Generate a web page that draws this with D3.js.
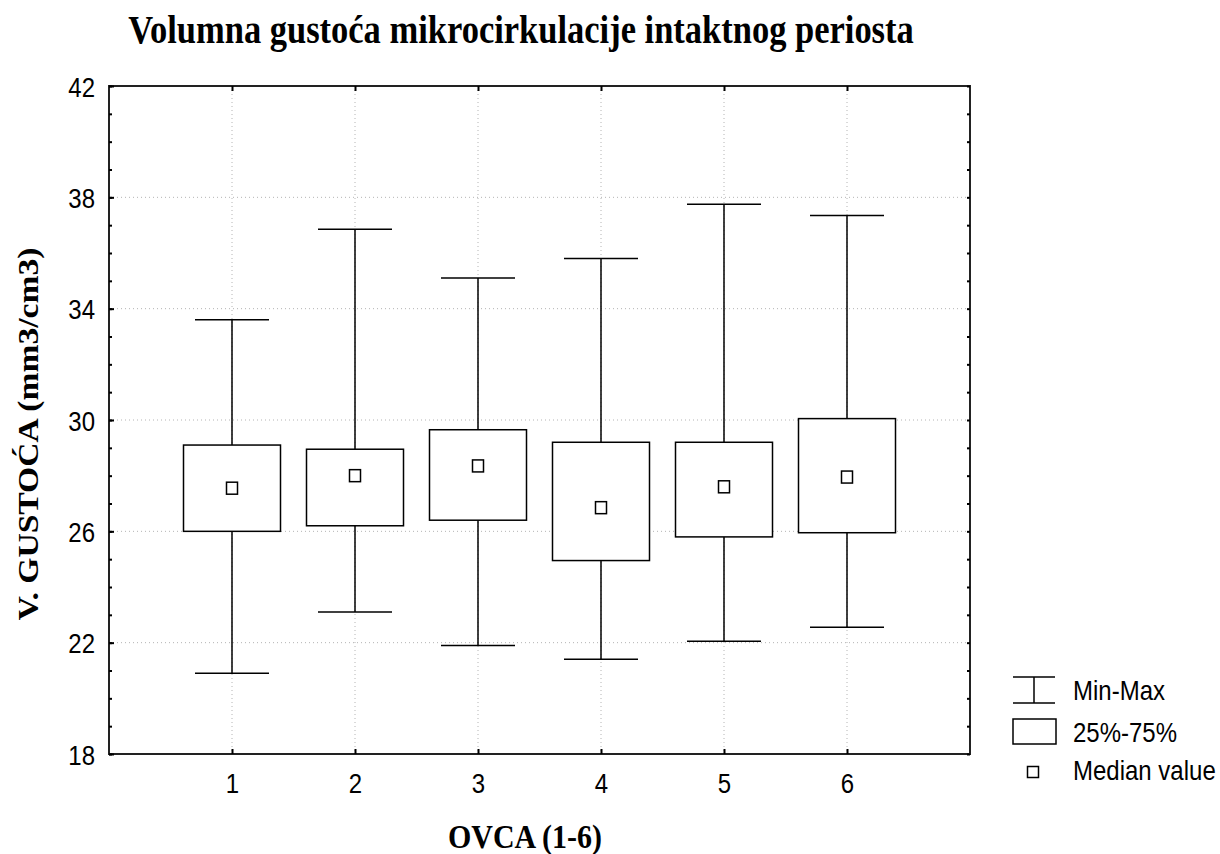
<!DOCTYPE html>
<html><head><meta charset="utf-8">
<script src="https://cdn.jsdelivr.net/npm/d3@7"></script>
<style>body{margin:0;background:#fff}</style>
</head><body><svg id="c" width="1220" height="854"></svg>
<script>
const categories = ["1","2","3","4","5","6"];
const minVals = [20.9, 23.1, 21.9, 21.4, 22.05, 22.55];
const q1Vals = [26.0, 26.2, 26.4, 24.95, 25.8, 25.95];
const medianVals = [27.55, 28.0, 28.35, 26.85, 27.6, 27.95];
const q3Vals = [29.1, 28.95, 29.65, 29.2, 29.2, 30.05];
const maxVals = [33.6, 36.85, 35.1, 35.8, 37.75, 37.35];
const yTicks = [18, 22, 26, 30, 34, 38, 42];
const legendLabels = ["Min-Max", "25%-75%", "Median value"];

const svg = d3.select("#c");
const L = 109, R = 970, T = 86, B = 754;
const SY = 1.15;
const x = d3.scaleLinear().domain([0, 7]).range([L, R]);
const y = d3.scaleLinear().domain([18, 42]).range([B, T]);
const pos = i => x(i + 1);

// grid
const g = svg.append("g");
g.selectAll(".hg").data(yTicks.slice(1, -1)).join("line")
  .attr("x1", L).attr("x2", R).attr("y1", d => y(d)).attr("y2", d => y(d))
  .attr("stroke", "#b4b4b4").attr("stroke-dasharray", "1,3").attr("stroke-width", 1);
g.selectAll(".vg").data(categories).join("line")
  .attr("x1", (d, i) => pos(i)).attr("x2", (d, i) => pos(i)).attr("y1", T).attr("y2", B)
  .attr("stroke", "#b4b4b4").attr("stroke-dasharray", "1,3").attr("stroke-width", 1);

// boxes
const data = categories.map((c, i) => ({c, i, min: minVals[i], q1: q1Vals[i], med: medianVals[i], q3: q3Vals[i], max: maxVals[i]}));
const bw = 97, cw = 74, msw = 11, msh = 12;
const bx = g.selectAll(".b").data(data).join("g");
bx.append("line").attr("x1", d => pos(d.i)).attr("x2", d => pos(d.i))
  .attr("y1", d => y(d.max)).attr("y2", d => y(d.q3)).attr("stroke", "#000").attr("stroke-width", 1.5);
bx.append("line").attr("x1", d => pos(d.i)).attr("x2", d => pos(d.i))
  .attr("y1", d => y(d.q1)).attr("y2", d => y(d.min)).attr("stroke", "#000").attr("stroke-width", 1.5);
bx.append("line").attr("x1", d => pos(d.i) - cw/2).attr("x2", d => pos(d.i) + cw/2)
  .attr("y1", d => y(d.max)).attr("y2", d => y(d.max)).attr("stroke", "#000").attr("stroke-width", 1.5);
bx.append("line").attr("x1", d => pos(d.i) - cw/2).attr("x2", d => pos(d.i) + cw/2)
  .attr("y1", d => y(d.min)).attr("y2", d => y(d.min)).attr("stroke", "#000").attr("stroke-width", 1.5);
bx.append("rect").attr("x", d => pos(d.i) - bw/2).attr("width", bw)
  .attr("y", d => y(d.q3)).attr("height", d => y(d.q1) - y(d.q3))
  .attr("fill", "#fff").attr("stroke", "#000").attr("stroke-width", 1.5);
bx.append("rect").attr("x", d => pos(d.i) - msw/2).attr("width", msw)
  .attr("y", d => y(d.med) - msh/2).attr("height", msh)
  .attr("fill", "#fff").attr("stroke", "#000").attr("stroke-width", 1.5);

// frame
svg.append("rect").attr("x", L).attr("y", T).attr("width", R - L).attr("height", B - T)
  .attr("fill", "none").attr("stroke", "#222").attr("stroke-width", 2);

// axes
const fontSans = "'Liberation Sans', Arial, sans-serif";
const yAxis = svg.append("g").attr("transform", `translate(${L},0)`)
  .call(d3.axisLeft(y).tickValues(yTicks).tickSize(-5).tickFormat(d3.format("d")));
const yMinor = svg.append("g").attr("transform", `translate(${L},0)`)
  .call(d3.axisLeft(y).tickValues(d3.range(18, 43, 1)).tickSize(-3).tickFormat(""));
const yRight = svg.append("g").attr("transform", `translate(${R},0)`)
  .call(d3.axisRight(y).tickValues(d3.range(18, 43, 1)).tickSize(-3).tickFormat(""));
const xAxis = svg.append("g").attr("transform", `translate(0,${B})`)
  .call(d3.axisBottom(x).tickValues(d3.range(1, 7)).tickSize(-5).tickFormat((d, i) => categories[i]));
const xTop = svg.append("g").attr("transform", `translate(0,${T})`)
  .call(d3.axisTop(x).tickValues(d3.range(1, 7)).tickSize(-5).tickFormat(""));
[yAxis, yMinor, yRight, xAxis, xTop].forEach(a => {
  a.select(".domain").remove();
  a.selectAll(".tick line").attr("stroke", "#000").attr("stroke-width", 2);
  a.selectAll("text").attr("font-family", fontSans).attr("font-size", 24).attr("fill", "#000");
});
yAxis.selectAll("text").attr("x", null).attr("y", null).attr("dy", null).attr("text-anchor", "end")
  .attr("transform", `translate(-14,10) scale(1,${SY})`);
xAxis.selectAll("text").attr("x", null).attr("y", null).attr("dy", null).attr("text-anchor", "middle")
  .attr("transform", `translate(0,39) scale(1,${SY})`);

// titles
const fontSerif = "'Liberation Serif', 'Times New Roman', serif";
svg.append("text").attr("transform", `translate(521,43) scale(1,1.17)`).attr("text-anchor", "middle")
  .attr("font-family", fontSerif).attr("font-weight", "bold").attr("font-size", 34.5)
  .text("Volumna gustoća mikrocirkulacije intaktnog periosta");
svg.append("text").attr("transform", `translate(38,434) rotate(-90) scale(1.12,1)`).attr("text-anchor", "middle")
  .attr("font-family", fontSerif).attr("font-weight", "bold").attr("font-size", 30)
  .text("V. GUSTOĆA (mm3/cm3)");
svg.append("text").attr("transform", `translate(525,848) scale(1,${SY})`).attr("text-anchor", "middle")
  .attr("font-family", fontSerif).attr("font-weight", "bold").attr("font-size", 30)
  .text("OVCA (1-6)");

// legend
const lg = svg.append("g");
const lx = 1013, lw = 42;
lg.append("line").attr("x1", lx).attr("x2", lx + lw).attr("y1", 677).attr("y2", 677).attr("stroke", "#000").attr("stroke-width", 1.5);
lg.append("line").attr("x1", lx).attr("x2", lx + lw).attr("y1", 703).attr("y2", 703).attr("stroke", "#000").attr("stroke-width", 1.5);
lg.append("line").attr("x1", lx + lw/2).attr("x2", lx + lw/2).attr("y1", 677).attr("y2", 703).attr("stroke", "#000").attr("stroke-width", 1.5);
lg.append("rect").attr("x", lx).attr("y", 719).attr("width", lw + 1).attr("height", 25).attr("fill", "#fff").attr("stroke", "#000").attr("stroke-width", 1.5);
lg.append("rect").attr("x", 1027.5).attr("y", 766.5).attr("width", 11).attr("height", 11).attr("fill", "#fff").attr("stroke", "#000").attr("stroke-width", 1.5);
const legendY = [700, 742, 780];
lg.selectAll(".lt").data(legendLabels).join("text")
  .attr("transform", (d, i) => `translate(1073,${legendY[i]}) scale(1,${SY})`)
  .attr("font-family", fontSans).attr("font-size", 24).attr("fill", "#000")
  .text(d => d);
</script></body></html>
